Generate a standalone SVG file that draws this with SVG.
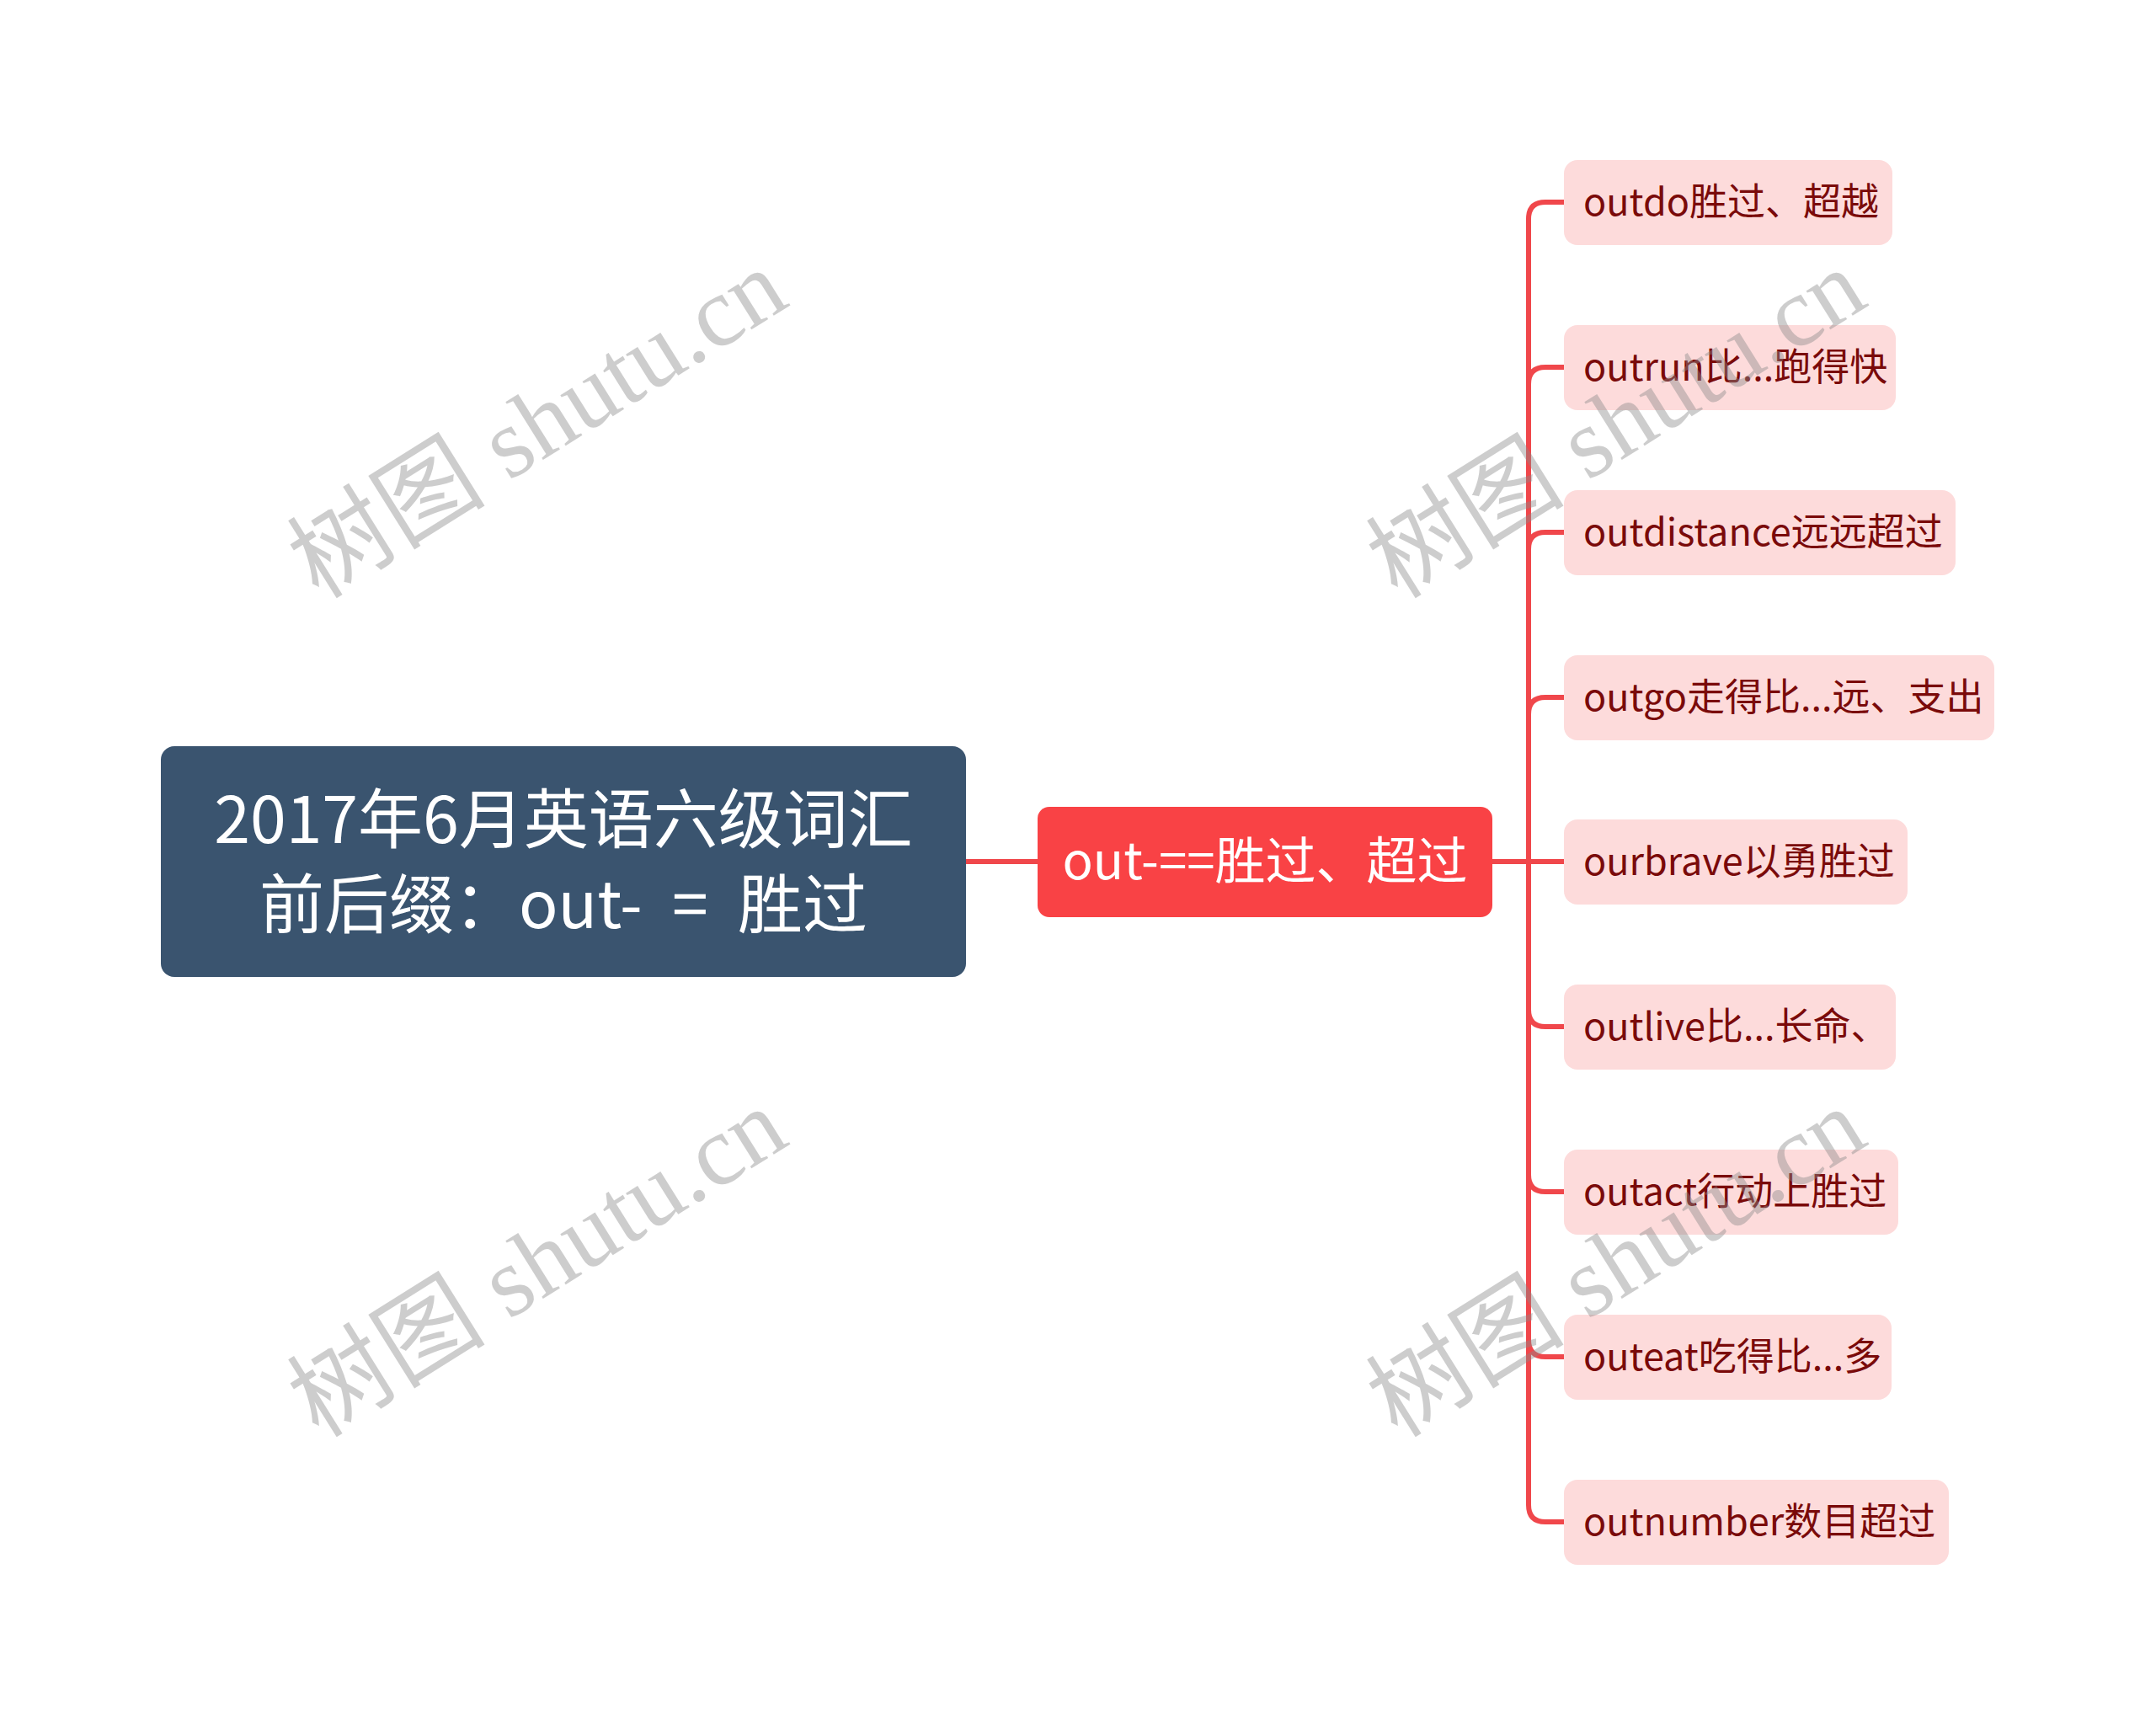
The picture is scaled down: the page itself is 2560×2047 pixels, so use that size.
<svg xmlns="http://www.w3.org/2000/svg" width="2560" height="2047" viewBox="0 0 2560 2047">
<style>
.t{font-family:"Noto Sans CJK SC","Noto Sans",sans-serif;}
.root{fill:#3a546f;}
.main{fill:#f94245;}
.leaf{fill:#fddbdb;}
.rt{fill:#ffffff;font-size:77px;}
.mt{fill:#ffffff;font-size:60px;}
.lt{fill:#7a0a0a;font-size:45px;}
.c{fill:none;stroke:#f0474b;stroke-width:6;}
.wm{font-family:"Liberation Serif","Noto Sans CJK SC",serif;font-size:118px;fill:#8a8a8a;opacity:0.42;}
</style>
<rect width="2560" height="2047" fill="#ffffff"/>
<g id="connectors">
<path class="c" d="M1147 1023 H1232"/>
<path class="c" d="M1772 1023 H1857"/>
<path class="c" d="M1815 1023 V260 Q1815 240 1835 240 H1857"/>
<path class="c" d="M1815 1023 V456 Q1815 436 1835 436 H1857"/>
<path class="c" d="M1815 1023 V652 Q1815 632 1835 632 H1857"/>
<path class="c" d="M1815 1023 V848 Q1815 828 1835 828 H1857"/>
<path class="c" d="M1815 1023 V1199 Q1815 1219 1835 1219 H1857"/>
<path class="c" d="M1815 1023 V1395 Q1815 1415 1835 1415 H1857"/>
<path class="c" d="M1815 1023 V1591 Q1815 1611 1835 1611 H1857"/>
<path class="c" d="M1815 1023 V1787 Q1815 1807 1835 1807 H1857"/>
</g>
<g id="root">
<rect class="root" x="191" y="886" width="956" height="274" rx="16"/>
<text class="t rt" x="669" y="1001" text-anchor="middle">2017年6月英语六级词汇</text>
<text class="t rt" x="669" y="1102" text-anchor="middle" word-spacing="18">前后缀：out- = 胜过</text>
</g>
<g id="main">
<rect class="main" x="1232" y="958" width="540" height="131" rx="14"/>
<text class="t mt" x="1502" y="1044" text-anchor="middle">out-==胜过、超过</text>
</g>
<g id="n1"><rect class="leaf" x="1857" y="190" width="390" height="101" rx="16"/><text class="t lt" x="1880" y="256">outdo胜过、超越</text></g>
<g id="n2"><rect class="leaf" x="1857" y="386" width="394" height="101" rx="16"/><text class="t lt" x="1880" y="452">outrun比...跑得快</text></g>
<g id="n3"><rect class="leaf" x="1857" y="582" width="465" height="101" rx="16"/><text class="t lt" x="1880" y="648">outdistance远远超过</text></g>
<g id="n4"><rect class="leaf" x="1857" y="778" width="511" height="101" rx="16"/><text class="t lt" x="1880" y="844">outgo走得比...远、支出</text></g>
<g id="n5"><rect class="leaf" x="1857" y="973" width="408" height="101" rx="16"/><text class="t lt" x="1880" y="1039">ourbrave以勇胜过</text></g>
<g id="n6"><rect class="leaf" x="1857" y="1169" width="394" height="101" rx="16"/><text class="t lt" x="1880" y="1235">outlive比...长命、</text></g>
<g id="n7"><rect class="leaf" x="1857" y="1365" width="397" height="101" rx="16"/><text class="t lt" x="1880" y="1431">outact行动上胜过</text></g>
<g id="n8"><rect class="leaf" x="1857" y="1561" width="389" height="101" rx="16"/><text class="t lt" x="1880" y="1627">outeat吃得比...多</text></g>
<g id="n9"><rect class="leaf" x="1857" y="1757" width="457" height="101" rx="16"/><text class="t lt" x="1880" y="1823">outnumber数目超过</text></g>
<g id="watermarks">
<text class="wm" x="645" y="514" text-anchor="middle" dominant-baseline="middle" transform="rotate(-32 645 514)">树图 shutu.cn</text>
<text class="wm" x="645" y="1510" text-anchor="middle" dominant-baseline="middle" transform="rotate(-32 645 1510)">树图 shutu.cn</text>
<text class="wm" x="1926" y="514" text-anchor="middle" dominant-baseline="middle" transform="rotate(-32 1926 514)">树图 shutu.cn</text>
<text class="wm" x="1926" y="1510" text-anchor="middle" dominant-baseline="middle" transform="rotate(-32 1926 1510)">树图 shutu.cn</text>
</g>
</svg>
